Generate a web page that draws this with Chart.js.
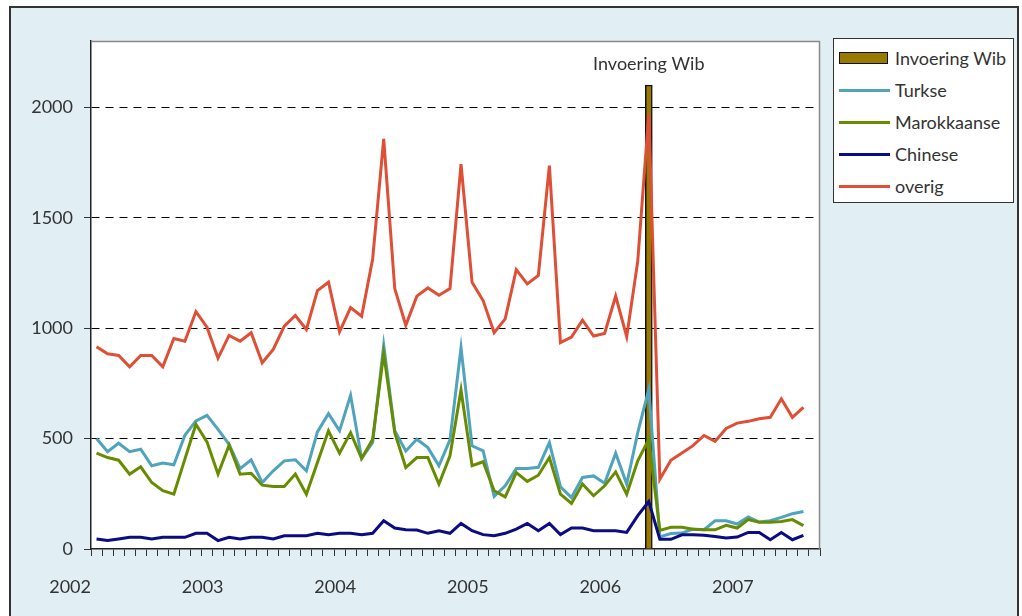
<!DOCTYPE html>
<html>
<head>
<meta charset="utf-8">
<script src="https://cdn.jsdelivr.net/npm/chart.js@4.4.1/dist/chart.umd.min.js"></script>
<style>
  html, body { margin:0; padding:0; background:#ffffff; }
  body { width:1022px; height:616px; position:relative; overflow:hidden; font-family:Lato, "Open Sans", sans-serif; }
  #frame { position:absolute; left:9px; top:6px; width:1006px; height:640px; border:2px solid #333; background:#e1eef3; }
  #c { position:absolute; left:0; top:0; }
  #legend { position:absolute; left:833px; top:38px; width:179px; height:160px; border:1px solid #333; background:#fff; padding-top:3px; box-sizing:content-box; }
  .item { position:relative; height:32px; }
  .sw { position:absolute; left:5px; }
  .txt { position:absolute; left:61px; top:0; line-height:32px; font-size:18px; color:#333; white-space:nowrap; }
</style>
</head>
<body>
<div id="frame"></div>
<canvas id="c" width="1022" height="616"></canvas>
<div id="legend"></div>
<script>
// ---- data ----
const categories = [
  'jan 2002','feb 2002','mrt 2002','apr 2002','mei 2002','jun 2002','jul 2002','aug 2002','sep 2002','okt 2002','nov 2002','dec 2002',
  'jan 2003','feb 2003','mrt 2003','apr 2003','mei 2003','jun 2003','jul 2003','aug 2003','sep 2003','okt 2003','nov 2003','dec 2003',
  'jan 2004','feb 2004','mrt 2004','apr 2004','mei 2004','jun 2004','jul 2004','aug 2004','sep 2004','okt 2004','nov 2004','dec 2004',
  'jan 2005','feb 2005','mrt 2005','apr 2005','mei 2005','jun 2005','jul 2005','aug 2005','sep 2005','okt 2005','nov 2005','dec 2005',
  'jan 2006','feb 2006','mrt 2006','apr 2006','mei 2006','jun 2006','jul 2006','aug 2006','sep 2006','okt 2006','nov 2006','dec 2006',
  'jan 2007','feb 2007','mrt 2007','apr 2007','mei 2007','jun 2007'
];
const yearLabels = ['2002','2003','2004','2005','2006','2007'];
const yTicks = [0, 500, 1000, 1500, 2000];

const turkse = [500,441,479,441,452,377,389,381,515,580, 605,542,474,364,404,301,354,399,404,354,
  530,613,535,696,410,482,923,535,444,497, 459,377,494,911,467,444,238,286,364,364,
  370,482,282,233,324,331,298,434,294,527, 723,55,70,72,90, 87,128,128,113,145, 122,128,143,160,170];
const marokkaanse = [434,414,402,339,372,301,264,248,407,565, 485,339,470,339,343,289,283,283,339,248,
  392,535,434,527,410,497,886,527,369,414, 414,294,422,720,377,395,264,236,346,306,
  334,414,248,206,294,241,286,349,248,399, 497,84,98,98,89, 87,87,107,95,133, 121,121,125,133,106];
const chinese = [45,38,45,53,53,45,53,53,53,71, 71,38,53,45,53,53,45,60,60,60,
  71,65,71,71,65,71,128,95,87,86, 71,83,71,116,83,65,60,71,90,116,
  83,116,65,95,95,83,83,83,75,151, 215,44,44,64,64, 62,57,50,54,75, 75,42,75,42,62];
const overig = [916,884,876,825,876,876,825,953,941,1075, 1004,864,967,941,979,843,904,1009,1057,994,
  1170,1208,983,1093,1054,1313,1857,1179,1013,1145, 1182,1149,1179,1742,1208,1125,979,1042,1265,1200,
  1239,1736,934,959,1036,964,976,1145,961,1303, 1970,316,402,435,468, 514,487,546,570,578, 590,596,680,596,641];
const wibMonth = 'mrt 2006';
const wibValue = 2100;
const wibLabel = 'Invoering Wib';

const FONT = 'Lato';

const plotFrame = {
  id: 'plotFrame',
  beforeDraw(chart) {
    const {ctx, chartArea: a} = chart;
    ctx.save();
    ctx.fillStyle = '#ffffff';
    ctx.fillRect(a.left, a.top, a.right - a.left, a.bottom - a.top);
    ctx.restore();
  },
  afterDraw(chart) {
    const {ctx, chartArea: a} = chart;
    ctx.save();
    ctx.strokeStyle = '#8a8a8a';
    ctx.lineWidth = 1.5;
    ctx.beginPath();
    ctx.moveTo(a.left, a.top + 0.5);
    ctx.lineTo(a.right - 0.5, a.top + 0.5);
    ctx.lineTo(a.right - 0.5, a.bottom);
    ctx.stroke();
    ctx.restore();
  }
};

const wibNote = {
  id: 'wibNote',
  afterDatasetsDraw(chart) {
    const {ctx, chartArea: a} = chart;
    const x = chart.scales.x.getPixelForValue(categories.indexOf(wibMonth));
    ctx.save();
    ctx.font = '18px ' + FONT;
    ctx.fillStyle = '#333';
    ctx.textAlign = 'center';
    ctx.textBaseline = 'middle';
    ctx.fillText(wibLabel, x, a.top + 23);
    ctx.restore();
  }
};

const chart = new Chart(document.getElementById('c'), {
  data: {
    labels: categories,
    datasets: [
      { type:'bar', label: wibLabel, data: categories.map(c => c === wibMonth ? wibValue : null),
        backgroundColor:'#9a7900', borderColor:'#111', borderWidth:1.5, barThickness:7, order:5 },
      { type:'line', label:'Turkse', data: turkse, borderColor:'#4fa3bc', borderWidth:3, pointRadius:0, tension:0, order:4 },
      { type:'line', label:'Marokkaanse', data: marokkaanse, borderColor:'#688c00', borderWidth:3, pointRadius:0, tension:0, order:3 },
      { type:'line', label:'Chinese', data: chinese, borderColor:'#0b0b84', borderWidth:3, pointRadius:0, tension:0, order:2 },
      { type:'line', label:'overig', data: overig, borderColor:'#de4f36', borderWidth:3, pointRadius:0, tension:0, order:1 }
    ]
  },
  options: {
    responsive:false, animation:false, devicePixelRatio:1,
    layout: { padding: { left:0, right:202, top:41, bottom:0 } },
    plugins: { legend:{ display:false }, tooltip:{ enabled:false } },
    scales: {
      x: {
        type:'category', offset:true,
        grid: { offset:true, drawOnChartArea:false, drawTicks:true, tickLength:7, color:'#333', tickColor:'#333', tickWidth:1 },
        border: { display:true, color:'#222', width:1.5 },
        ticks: {
          autoSkip:false, maxRotation:0, minRotation:0, align:'end', labelOffset:-5.52, padding:20,
          color:'#333', font:{ family:FONT, size:18 },
          callback: (v, i) => (i % 12 === 0 && yearLabels[i / 12]) ? yearLabels[i / 12] : ''
        },
        afterFit: s => { s.height = 67; }
      },
      y: {
        min:0, max:2300,
        afterBuildTicks: s => { s.ticks = yTicks.map(v => ({ value:v })); },
        grid: {
          color: c => (c.tick && c.tick.value > 0) ? '#000' : 'rgba(0,0,0,0)',
          lineWidth:1, drawTicks:true, tickLength:7, tickColor:'#333', tickWidth:1
        },
        border: { display:true, color:'#222', width:1.5, dash:[8,6] },
        ticks: { padding:11, color:'#333', font:{ family:FONT, size:18 }, callback: v => String(v) },
        afterFit: s => { s.width = 91; }
      }
    }
  },
  plugins: [plotFrame, wibNote]
});

// ---- HTML legend built from the datasets ----
const legend = document.getElementById('legend');
chart.data.datasets.forEach(ds => {
  const row = document.createElement('div');
  row.className = 'item';
  const sw = document.createElement('div');
  sw.className = 'sw';
  if (ds.type === 'bar') {
    sw.style.cssText = 'left:5px;top:10px;width:47px;height:10px;background:' + ds.backgroundColor + ';border:1.5px solid #111;';
  } else {
    sw.style.cssText = 'left:5px;top:15px;width:51px;height:3px;background:' + ds.borderColor + ';';
  }
  const t = document.createElement('div');
  t.className = 'txt';
  t.textContent = ds.label;
  row.appendChild(sw); row.appendChild(t);
  legend.appendChild(row);
});
</script>
</body>
</html>
